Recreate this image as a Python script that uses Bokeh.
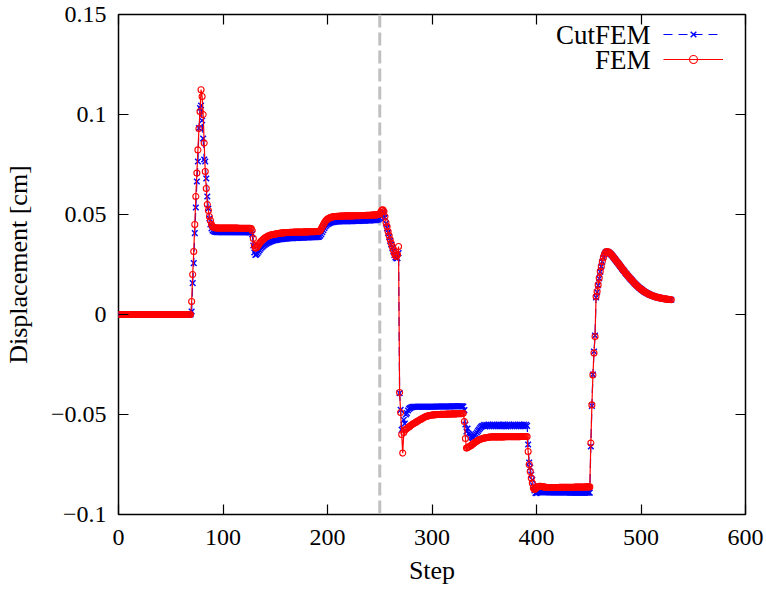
from bokeh.plotting import figure
from bokeh.models import (Span, Legend, LegendItem, Label, LinearAxis, FixedTicker, Range1d,
                          CustomLabelingPolicy)
from bokeh.core.properties import value
from bokeh.embed import file_html
from bokeh.resources import INLINE

# ---------------- data ----------------
x_ticks = [0, 100, 200, 300, 400, 500, 600]
y_ticks = [-0.1, -0.05, 0.0, 0.05, 0.1, 0.15]
y_tick_labels = ["\u22120.1", "\u22120.05", "0", "0.05", "0.1", "0.15"]
marker_step = 250
series_names = ["CutFEM", "FEM"]

# FEM, steps 0..529 in segments
fem_a = [0.0, 0.0, 0.0, 0.0, 0.0, 0.0, 0.0, 0.0, 0.0, 0.0,
         0.0, 0.0, 0.0, 0.0, 0.0, 0.0, 0.0, 0.0, 0.0, 0.0,
         0.0, 0.0, 0.0, 0.0, 0.0, 0.0, 0.0, 0.0, 0.0, 0.0,
         0.0, 0.0, 0.0, 0.0, 0.0, 0.0, 0.0, 0.0, 0.0, 0.0,
         0.0, 0.0, 0.0, 0.0, 0.0, 0.0, 0.0, 0.0, 0.0, 0.0,
         0.0, 0.0, 0.0, 0.0, 0.0, 0.0, 0.0, 0.0, 0.0, 0.0,
         0.0, 0.0, 0.0, 0.0, 0.0, 0.0, 0.0, 0.0, 0.0, 0.0]
fem_b = [0.0065, 0.0200, 0.0315, 0.0450, 0.0590, 0.0707, 0.0823, 0.0930, 0.1015, 0.1124,
         0.1090, 0.1000, 0.0857, 0.0715, 0.0630, 0.0550, 0.0520, 0.0490, 0.0470, 0.0450]
fem_c = [0.0440, 0.0436, 0.0434, 0.0433, 0.0432, 0.0432, 0.0432, 0.0432, 0.0432, 0.0432,
         0.0432, 0.0432, 0.0432, 0.0432, 0.0432, 0.0432, 0.0432, 0.0432, 0.0432, 0.0432,
         0.0432, 0.0432, 0.0432, 0.0432, 0.0432, 0.0431, 0.0431, 0.0431, 0.0431, 0.0431,
         0.0431, 0.0431, 0.0431, 0.0431, 0.0431, 0.0431, 0.0431, 0.0430]
fem_d = [0.0420, 0.0380, 0.0345, 0.0332, 0.0334, 0.0340, 0.0348, 0.0356, 0.0363, 0.0369,
         0.0374, 0.0378, 0.0382, 0.0386, 0.0389, 0.0392, 0.0394, 0.0396, 0.0398, 0.0399,
         0.0400, 0.0401, 0.0402, 0.0403, 0.0404, 0.0405, 0.0406, 0.0407, 0.0407, 0.0408,
         0.0408, 0.0409, 0.0409, 0.0410, 0.0410, 0.0410, 0.0411, 0.0411, 0.0411, 0.0411,
         0.0412, 0.0412, 0.0412, 0.0412, 0.0412, 0.0412, 0.0412, 0.0412, 0.0412, 0.0412,
         0.0413, 0.0413, 0.0413, 0.0413, 0.0413, 0.0414, 0.0414, 0.0414, 0.0414, 0.0414,
         0.0414, 0.0415, 0.0415, 0.0415]
fem_e = [0.0416, 0.0420, 0.0428, 0.0438, 0.0448, 0.0458, 0.0466, 0.0472, 0.0477, 0.0480,
         0.0483, 0.0485, 0.0487, 0.0488, 0.0489, 0.0490, 0.0490, 0.0491, 0.0491, 0.0491,
         0.0492, 0.0492, 0.0492, 0.0492, 0.0492, 0.0493, 0.0493, 0.0493, 0.0493, 0.0493,
         0.0493, 0.0493, 0.0493, 0.0494, 0.0494, 0.0494, 0.0494, 0.0494, 0.0494, 0.0494,
         0.0495, 0.0495, 0.0495, 0.0495, 0.0495, 0.0496, 0.0496, 0.0496, 0.0496, 0.0496,
         0.0497, 0.0497, 0.0497, 0.0498, 0.0498, 0.0498, 0.0499, 0.0500, 0.0503]
fem_f = [0.0512, 0.0522, 0.0523, 0.0515, 0.0490, 0.0460, 0.0440, 0.0415, 0.0395, 0.0375,
         0.0357, 0.0340, 0.0323, 0.0305, 0.0295, 0.0290, 0.0300, 0.0340]
fem_g = [-0.0390, -0.0490, -0.0600, -0.0693, -0.0590, -0.0578, -0.0574, -0.0570, -0.0566, -0.0562,
         -0.0558, -0.0554, -0.0550, -0.0547, -0.0544, -0.0541, -0.0537, -0.0534, -0.0531, -0.0528,
         -0.0525, -0.0522, -0.0519, -0.0516, -0.0513, -0.0511, -0.0509, -0.0507, -0.0506, -0.0505,
         -0.0504, -0.0503, -0.0502, -0.0502, -0.0501, -0.0501, -0.0500, -0.0500, -0.0500, -0.0499,
         -0.0499, -0.0499, -0.0499, -0.0499, -0.0499, -0.0498, -0.0498, -0.0498, -0.0498, -0.0498,
         -0.0497, -0.0497, -0.0497, -0.0497, -0.0497, -0.0496, -0.0496, -0.0496, -0.0496, -0.0496,
         -0.0495]
fem_h = [-0.0494, -0.0535, -0.0620, -0.0668, -0.0666, -0.0663, -0.0660, -0.0656, -0.0652, -0.0648,
         -0.0644, -0.0640, -0.0636, -0.0633, -0.0630, -0.0627, -0.0625, -0.0623, -0.0621, -0.0619,
         -0.0618, -0.0617, -0.0616, -0.0615, -0.0614, -0.0613, -0.0613, -0.0612, -0.0612, -0.0612,
         -0.0612, -0.0612, -0.0612, -0.0612, -0.0612, -0.0612, -0.0612, -0.0612, -0.0612, -0.0612,
         -0.0611, -0.0611, -0.0611, -0.0611, -0.0611, -0.0611, -0.0611, -0.0611, -0.0611, -0.0611,
         -0.0611, -0.0611, -0.0611, -0.0611, -0.0611, -0.0610, -0.0610, -0.0610, -0.0610, -0.0610,
         -0.0610, -0.0610]
fem_i = [-0.0685, -0.0750, -0.0785, -0.0818, -0.0843, -0.0868, -0.0875, -0.0872, -0.0866, -0.0862,
         -0.0860, -0.0859, -0.0859, -0.0860, -0.0861, -0.0862, -0.0863, -0.0864, -0.0865, -0.0865,
         -0.0865, -0.0865, -0.0865, -0.0865, -0.0865, -0.0865, -0.0865, -0.0865, -0.0865, -0.0865,
         -0.0864, -0.0864, -0.0864, -0.0864, -0.0864, -0.0864, -0.0864, -0.0864, -0.0864, -0.0864,
         -0.0864, -0.0864, -0.0864, -0.0864, -0.0864, -0.0863, -0.0863, -0.0863, -0.0863, -0.0863,
         -0.0863, -0.0863, -0.0863, -0.0863, -0.0863, -0.0862, -0.0862, -0.0862, -0.0862, -0.0862]
fem_j = [-0.0643, -0.0452, -0.0302, -0.0193, -0.0110, 0.0090, 0.0115, 0.0148, 0.0182, 0.0215,
         0.0240, 0.0265, 0.0285, 0.0300, 0.0310, 0.0315, 0.0314, 0.0312, 0.0308, 0.0303,
         0.0297, 0.0291, 0.0284, 0.0278, 0.0271, 0.0264, 0.0258, 0.0251, 0.0244, 0.0237,
         0.0230, 0.0223, 0.0216, 0.0210, 0.0203, 0.0197, 0.0191, 0.0185, 0.0179, 0.0173,
         0.0167, 0.0161, 0.0155, 0.0150, 0.0145, 0.0140, 0.0135, 0.0131, 0.0127, 0.0123,
         0.0119, 0.0115, 0.0112, 0.0109, 0.0106, 0.0103, 0.0100, 0.0098, 0.0096, 0.0094,
         0.0092, 0.0090, 0.0088, 0.0087, 0.0085, 0.0084, 0.0083, 0.0082, 0.0081, 0.0080,
         0.0079, 0.0078, 0.0077, 0.0076, 0.0076, 0.0075, 0.0075, 0.0074]

# CutFEM, steps 0..529 in segments
cut_a = [0.0, 0.0, 0.0, 0.0, 0.0, 0.0, 0.0, 0.0, 0.0, 0.0,
         0.0, 0.0, 0.0, 0.0, 0.0, 0.0, 0.0, 0.0, 0.0, 0.0,
         0.0, 0.0, 0.0, 0.0, 0.0, 0.0, 0.0, 0.0, 0.0, 0.0,
         0.0, 0.0, 0.0, 0.0, 0.0, 0.0, 0.0, 0.0, 0.0, 0.0,
         0.0, 0.0, 0.0, 0.0, 0.0, 0.0, 0.0, 0.0, 0.0, 0.0,
         0.0, 0.0, 0.0, 0.0, 0.0, 0.0, 0.0, 0.0, 0.0, 0.0,
         0.0, 0.0, 0.0, 0.0, 0.0, 0.0, 0.0, 0.0, 0.0, 0.0]
cut_b = [0.0015, 0.0157, 0.0257, 0.0407, 0.0535, 0.0665, 0.0765, 0.0932, 0.1032, 0.1045,
         0.0970, 0.0880, 0.0775, 0.0765, 0.0680, 0.0590, 0.0530, 0.0480, 0.0450, 0.0430]
cut_c = [0.0420, 0.0416, 0.0414, 0.0413, 0.0412, 0.0412, 0.0412, 0.0412, 0.0412, 0.0412,
         0.0412, 0.0412, 0.0412, 0.0412, 0.0412, 0.0412, 0.0412, 0.0412, 0.0412, 0.0412,
         0.0411, 0.0411, 0.0411, 0.0411, 0.0411, 0.0411, 0.0411, 0.0411, 0.0411, 0.0411,
         0.0411, 0.0411, 0.0411, 0.0411, 0.0411, 0.0410, 0.0410, 0.0410]
cut_d = [0.0402, 0.0345, 0.0310, 0.0298, 0.0300, 0.0306, 0.0314, 0.0322, 0.0329, 0.0335,
         0.0340, 0.0345, 0.0349, 0.0353, 0.0356, 0.0359, 0.0362, 0.0364, 0.0366, 0.0368,
         0.0370, 0.0371, 0.0372, 0.0373, 0.0374, 0.0375, 0.0376, 0.0377, 0.0377, 0.0378,
         0.0378, 0.0379, 0.0379, 0.0380, 0.0380, 0.0381, 0.0381, 0.0381, 0.0382, 0.0382,
         0.0383, 0.0383, 0.0383, 0.0383, 0.0383, 0.0384, 0.0384, 0.0384, 0.0384, 0.0384,
         0.0385, 0.0385, 0.0385, 0.0385, 0.0385, 0.0386, 0.0386, 0.0386, 0.0386, 0.0386,
         0.0387, 0.0387, 0.0388, 0.0388]
cut_e = [0.0389, 0.0394, 0.0402, 0.0412, 0.0422, 0.0432, 0.0440, 0.0446, 0.0451, 0.0454,
         0.0457, 0.0459, 0.0461, 0.0462, 0.0463, 0.0464, 0.0464, 0.0465, 0.0465, 0.0465,
         0.0466, 0.0466, 0.0466, 0.0466, 0.0466, 0.0467, 0.0467, 0.0467, 0.0467, 0.0467,
         0.0467, 0.0467, 0.0467, 0.0468, 0.0468, 0.0468, 0.0468, 0.0468, 0.0468, 0.0468,
         0.0469, 0.0469, 0.0469, 0.0469, 0.0469, 0.0470, 0.0470, 0.0470, 0.0470, 0.0470,
         0.0471, 0.0471, 0.0471, 0.0472, 0.0472, 0.0473, 0.0474, 0.0476, 0.0482]
cut_f = [0.0495, 0.0510, 0.0515, 0.0505, 0.0485, 0.0455, 0.0432, 0.0408, 0.0388, 0.0368,
         0.0350, 0.0333, 0.0315, 0.0298, 0.0285, 0.0280, 0.0282, 0.0307]
cut_g = [-0.0393, -0.0477, -0.0577, -0.0570, -0.0527, -0.0545, -0.0500, -0.0493, -0.0480, -0.0472,
         -0.0468, -0.0465, -0.0463, -0.0462, -0.0461, -0.0461, -0.0461, -0.0461, -0.0461, -0.0461,
         -0.0461, -0.0461, -0.0461, -0.0461, -0.0461, -0.0461, -0.0461, -0.0461, -0.0461, -0.0461,
         -0.0461, -0.0461, -0.0461, -0.0461, -0.0461, -0.0460, -0.0460, -0.0460, -0.0460, -0.0460,
         -0.0460, -0.0460, -0.0460, -0.0460, -0.0460, -0.0460, -0.0460, -0.0460, -0.0460, -0.0460,
         -0.0459, -0.0459, -0.0459, -0.0459, -0.0459, -0.0459, -0.0459, -0.0459, -0.0459, -0.0459,
         -0.0459]
cut_h = [-0.0460, -0.0478, -0.0550, -0.0585, -0.0570, -0.0595, -0.0600, -0.0610, -0.0615, -0.0618,
         -0.0612, -0.0605, -0.0598, -0.0590, -0.0582, -0.0575, -0.0568, -0.0562, -0.0558, -0.0556,
         -0.0552, -0.0560, -0.0551, -0.0559, -0.0550, -0.0558, -0.0551, -0.0559, -0.0550, -0.0558,
         -0.0551, -0.0559, -0.0552, -0.0558, -0.0550, -0.0559, -0.0551, -0.0558, -0.0550, -0.0559,
         -0.0552, -0.0560, -0.0551, -0.0559, -0.0550, -0.0558, -0.0551, -0.0559, -0.0550, -0.0558,
         -0.0551, -0.0559, -0.0552, -0.0558, -0.0550, -0.0559, -0.0551, -0.0558, -0.0550, -0.0559,
         -0.0551, -0.0557]
cut_i = [-0.0650, -0.0740, -0.0765, -0.0800, -0.0827, -0.0858, -0.0880, -0.0892, -0.0893, -0.0890,
         -0.0889, -0.0889, -0.0889, -0.0889, -0.0889, -0.0889, -0.0889, -0.0889, -0.0889, -0.0889,
         -0.0890, -0.0890, -0.0890, -0.0890, -0.0890, -0.0890, -0.0890, -0.0890, -0.0890, -0.0890,
         -0.0890, -0.0890, -0.0890, -0.0890, -0.0890, -0.0890, -0.0890, -0.0890, -0.0890, -0.0890,
         -0.0891, -0.0891, -0.0891, -0.0891, -0.0891, -0.0891, -0.0891, -0.0891, -0.0891, -0.0891,
         -0.0891, -0.0891, -0.0891, -0.0891, -0.0891, -0.0891, -0.0891, -0.0891, -0.0891, -0.0891]
cut_j = [-0.0660, -0.0457, -0.0300, -0.0185, -0.0105, 0.0085, 0.0112, 0.0146, 0.0180, 0.0213,
         0.0240, 0.0264, 0.0285, 0.0300, 0.0310, 0.0314, 0.0314, 0.0311, 0.0307, 0.0302,
         0.0296, 0.0290, 0.0284, 0.0277, 0.0270, 0.0264, 0.0257, 0.0250, 0.0243, 0.0236,
         0.0229, 0.0222, 0.0216, 0.0209, 0.0203, 0.0196, 0.0190, 0.0184, 0.0178, 0.0172,
         0.0166, 0.0160, 0.0155, 0.0150, 0.0145, 0.0140, 0.0135, 0.0131, 0.0127, 0.0123,
         0.0119, 0.0115, 0.0112, 0.0109, 0.0106, 0.0103, 0.0100, 0.0098, 0.0096, 0.0094,
         0.0092, 0.0090, 0.0088, 0.0087, 0.0085, 0.0084, 0.0083, 0.0082, 0.0081, 0.0080,
         0.0079, 0.0078, 0.0077, 0.0076, 0.0075, 0.0075, 0.0074, 0.0074]

fem = fem_a + fem_b + fem_c + fem_d + fem_e + fem_f + fem_g + fem_h + fem_i + fem_j
cutfem = cut_a + cut_b + cut_c + cut_d + cut_e + cut_f + cut_g + cut_h + cut_i + cut_j
fem_steps = list(range(len(fem)))
cut_steps = list(range(len(cutfem)))

# ---------------- figure ----------------
FONT = "Liberation Serif"

p = figure(width=766, height=591, output_backend="svg", toolbar_location=None,
           x_range=Range1d(0, 600), y_range=Range1d(-0.1, 0.15),
           min_border_left=111, min_border_right=21, min_border_top=14, min_border_bottom=77,
           x_axis_label="Step", y_axis_label="Displacement [cm]")
p.background_fill_color = "white"
p.border_fill_color = "white"
p.xgrid.visible = False
p.ygrid.visible = False
p.outline_line_color = "black"
p.outline_line_width = 1.5

p.xaxis.ticker = FixedTicker(ticks=x_ticks)
p.yaxis.ticker = FixedTicker(ticks=y_ticks)
p.yaxis.major_label_overrides = {t: s for t, s in zip(y_ticks, y_tick_labels)}

for ax in [p.xaxis[0], p.yaxis[0]]:
    ax.axis_line_color = None
    ax.major_tick_in = 10
    ax.major_tick_out = 0
    ax.major_tick_line_width = 1.2
    ax.major_tick_line_color = "black"
    ax.minor_tick_line_color = None
    ax.major_label_text_font = FONT
    ax.major_label_text_font_size = "24px"
    ax.major_label_text_color = "black"
    ax.axis_label_text_font = FONT
    ax.axis_label_text_font_size = "26px"
    ax.axis_label_text_font_style = "normal"
    ax.axis_label_text_color = "black"

p.xaxis.major_label_standoff = 15
p.yaxis.major_label_standoff = 12
p.xaxis.axis_label_standoff = 8
p.yaxis.axis_label_standoff = 15

# mirrored ticks on top and right, without labels (hidden by policy, zero extent)
hide_all = CustomLabelingPolicy(code="for (const i of indices) { indices.unset(i) }\nreturn indices")
top_ax = LinearAxis(ticker=FixedTicker(ticks=x_ticks), major_label_policy=hide_all)
right_ax = LinearAxis(ticker=FixedTicker(ticks=y_ticks), major_label_policy=hide_all)
for ax in [top_ax, right_ax]:
    ax.axis_line_color = None
    ax.major_tick_in = 10
    ax.major_tick_out = 0
    ax.major_tick_line_width = 1.2
    ax.major_tick_line_color = "black"
    ax.minor_tick_line_color = None
    ax.major_label_standoff = 0
    ax.major_label_text_font_size = "0px"
p.add_layout(top_ax, "above")
p.add_layout(right_ax, "right")

# dashed grey marker line
p.add_layout(Span(location=marker_step, dimension="height", line_color="#c0c0c0",
                  line_width=3, line_dash="13 5", level="underlay"))

# series
cut_line = p.line(cut_steps, cutfem, line_color="#0000ff", line_width=1.2, line_dash="9 6")
cut_pts = p.scatter(cut_steps, cutfem, marker="x", size=8, line_color="#0000ff", line_width=1.4)
fem_line = p.line(fem_steps, fem, line_color="#ff0000", line_width=1.2)
fem_pts = p.scatter(fem_steps, fem, marker="circle", size=6, fill_color=None,
                    line_color="#ff0000", line_width=1.1)

# legend: samples via Legend (top right), names as separate right-aligned labels on the left
legend = Legend(items=[LegendItem(label=value(""), renderers=[cut_line, cut_pts]),
                       LegendItem(label=value(""), renderers=[fem_line, fem_pts])],
                location="top_right", glyph_width=60, glyph_height=20, spacing=5,
                padding=0, margin=10, label_width=12, label_standoff=0, label_height=20,
                border_line_alpha=0, background_fill_alpha=0)
p.add_layout(legend)

legend_text_x = 509
legend_text_y = [0.1399, 0.1274]
for name, ypos in zip(series_names, legend_text_y):
    p.add_layout(Label(x=legend_text_x, y=ypos, text=name,
                       text_align="right", text_baseline="middle", text_font=FONT,
                       text_font_size="27px", text_color="black"))

open("out.html", "w").write(file_html(p, INLINE))
